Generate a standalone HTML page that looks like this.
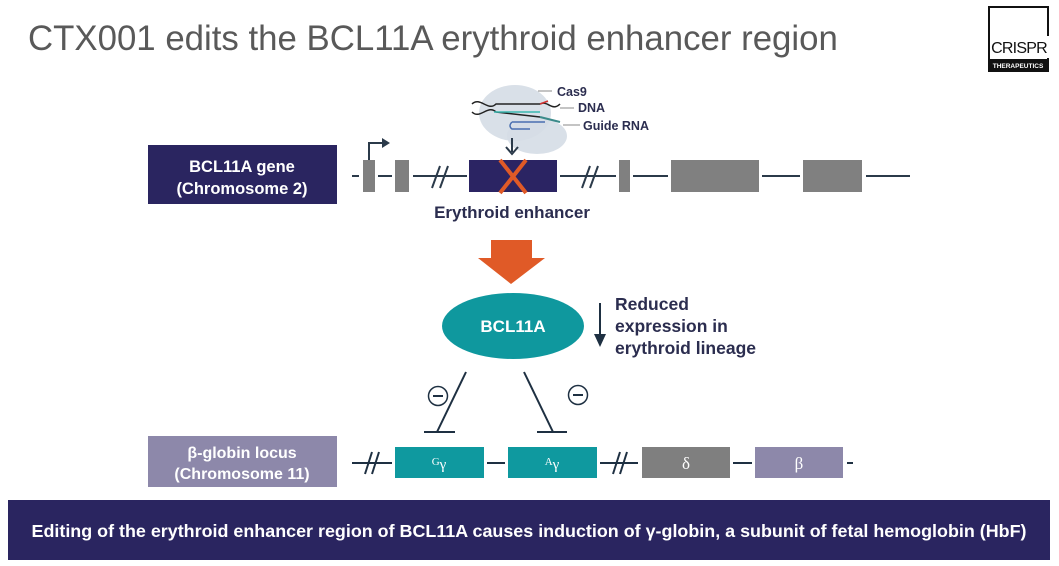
<!DOCTYPE html>
<html><head><meta charset="utf-8"><style>
html,body{margin:0;padding:0;background:#fff;}
svg{display:block;font-family:"Liberation Sans",sans-serif;}
</style></head><body>
<svg width="1059" height="566" viewBox="0 0 1059 566" xmlns="http://www.w3.org/2000/svg">
<text x="28" y="50" font-size="34.8" fill="#595959">CTX001 edits the BCL11A erythroid enhancer region</text>
<!-- logo -->
<rect x="989" y="7" width="59" height="64" fill="#fff" stroke="#111" stroke-width="2"/>
<rect x="994" y="36" width="56" height="22" fill="#fff"/>
<text x="1019" y="53" font-size="16" text-anchor="middle" fill="#111" letter-spacing="-0.8">CRISPR</text>
<rect x="989" y="59" width="59" height="12" fill="#111"/>
<text x="1018" y="68" font-size="6.5" text-anchor="middle" fill="#fff" font-weight="bold">THERAPEUTICS</text>

<!-- BCL11A gene box -->
<rect x="148" y="145" width="189" height="59" fill="#2a2560"/>
<text x="242" y="172" font-size="16.5" font-weight="bold" fill="#fff" text-anchor="middle">BCL11A gene</text>
<text x="242" y="194" font-size="16.5" font-weight="bold" fill="#fff" text-anchor="middle">(Chromosome 2)</text>

<g stroke="#2b3a4a" stroke-width="2" fill="none">
<line x1="352" y1="176" x2="359" y2="176"/>
<line x1="378" y1="176" x2="392" y2="176"/>
<line x1="413" y1="176" x2="467" y2="176"/>
<line x1="432" y1="188" x2="440" y2="166"/><line x1="440" y1="188" x2="448" y2="166"/>
<line x1="560" y1="176" x2="616" y2="176"/>
<line x1="582" y1="188" x2="590" y2="166"/><line x1="590" y1="188" x2="598" y2="166"/>
<line x1="633" y1="176" x2="668" y2="176"/>
<line x1="762" y1="176" x2="800" y2="176"/>
<line x1="866" y1="176" x2="910" y2="176"/>
<polyline points="369,160 369,143 384,143"/>
</g>
<polygon points="382,138 390,143 382,148" fill="#2b3a4a"/>
<g fill="#808080">
<rect x="363" y="160" width="12" height="32"/>
<rect x="395" y="160" width="14" height="32"/>
<rect x="619" y="160" width="11" height="32"/>
<rect x="671" y="160" width="88" height="32"/>
<rect x="803" y="160" width="59" height="32"/>
</g>
<rect x="469" y="160" width="88" height="32" fill="#2b2463"/>
<g stroke="#e05a27" stroke-width="4"><line x1="500" y1="160" x2="526" y2="193"/><line x1="526" y1="160" x2="500" y2="193"/></g>

<!-- Cas9 -->
<ellipse cx="515" cy="113" rx="36" ry="28" fill="#d5dde6" opacity="0.9"/>
<ellipse cx="537" cy="136" rx="30" ry="18" fill="#d5dde6" opacity="0.9"/>
<g stroke="#222" stroke-width="1.5" fill="none">
<path d="M472,104 C480,96 488,112 496,104 L540,104 C548,100 552,112 560,104"/>
<path d="M472,112 C480,120 488,104 496,112 L540,117"/>
</g>
<line x1="494" y1="112" x2="540" y2="112" stroke="#3bb8b0" stroke-width="1.5"/>
<line x1="540" y1="117" x2="560" y2="122" stroke="#3b8a8a" stroke-width="2"/>
<path d="M512,122 L545,122 M512,122 q-4,4 0,7 L530,129" stroke="#4a6fb0" stroke-width="1.5" fill="none"/>
<line x1="540" y1="104" x2="548" y2="101" stroke="#d03030" stroke-width="1.5"/>
<g stroke="#888" stroke-width="1"><line x1="538" y1="91" x2="552" y2="91"/><line x1="560" y1="108" x2="574" y2="108"/><line x1="563" y1="125" x2="580" y2="125"/></g>
<g font-size="12.5" font-weight="bold" fill="#2b2d4f">
<text x="557" y="96">Cas9</text><text x="578" y="112">DNA</text><text x="583" y="130">Guide RNA</text>
</g>
<line x1="512" y1="138" x2="512" y2="152" stroke="#2b3a4a" stroke-width="2"/>
<polyline points="506,147 512,154 518,147" stroke="#2b3a4a" stroke-width="2" fill="none"/>
<text x="512" y="218" font-size="17" font-weight="bold" fill="#2b2d4f" text-anchor="middle">Erythroid enhancer</text>

<!-- orange arrow -->
<polygon points="491,240 532,240 532,258 545,258 511,284 478,258 491,258" fill="#e05a27"/>

<ellipse cx="513" cy="326" rx="71" ry="33" fill="#0f989e"/>
<text x="513" y="332" font-size="17" font-weight="bold" fill="#fff" text-anchor="middle">BCL11A</text>
<line x1="600" y1="303" x2="600" y2="336" stroke="#1e3042" stroke-width="2"/>
<polygon points="594,334 606,334 600,347" fill="#1e3042"/>
<g font-size="17.5" font-weight="bold" fill="#2b2d4f">
<text x="615" y="310">Reduced</text><text x="615" y="332">expression in</text><text x="615" y="354">erythroid lineage</text>
</g>

<!-- inhibition -->
<g stroke="#1e3042" stroke-width="2" fill="none">
<line x1="466" y1="372" x2="437" y2="432"/><line x1="424" y1="432" x2="455" y2="432"/>
<line x1="524" y1="372" x2="553" y2="432"/><line x1="537" y1="432" x2="567" y2="432"/>
<circle cx="438" cy="396" r="9.5" stroke-width="1.5"/><line x1="433" y1="396" x2="443" y2="396"/>
<circle cx="578" cy="395" r="9.5" stroke-width="1.5"/><line x1="573" y1="395" x2="583" y2="395"/>
</g>

<!-- beta-globin box -->
<rect x="148" y="436" width="189" height="51" fill="#8d88aa"/>
<text x="242" y="458" font-size="16" font-weight="bold" fill="#fff" text-anchor="middle">β-globin locus</text>
<text x="242" y="479" font-size="16" font-weight="bold" fill="#fff" text-anchor="middle">(Chromosome 11)</text>

<g stroke="#1e3042" stroke-width="2">
<line x1="352" y1="463" x2="392" y2="463"/>
<line x1="365" y1="474" x2="372" y2="452"/><line x1="372" y1="474" x2="379" y2="452"/>
<line x1="487" y1="463" x2="505" y2="463"/>
<line x1="600" y1="463" x2="638" y2="463"/>
<line x1="613" y1="474" x2="620" y2="452"/><line x1="620" y1="474" x2="627" y2="452"/>
<line x1="733" y1="463" x2="752" y2="463"/>
<line x1="847" y1="463" x2="853" y2="463"/>
</g>
<rect x="395" y="447" width="89" height="31" fill="#0f999f"/>
<rect x="508" y="447" width="89" height="31" fill="#0f999f"/>
<rect x="642" y="447" width="88" height="31" fill="#7f7f7f"/>
<rect x="755" y="447" width="88" height="31" fill="#8d88aa"/>
<g fill="#fff" text-anchor="middle" font-family="Liberation Serif,serif">
<text x="439" y="469" font-size="15"><tspan font-size="11" dy="-4">G</tspan><tspan dy="4">γ</tspan></text>
<text x="552" y="469" font-size="15"><tspan font-size="11" dy="-4">A</tspan><tspan dy="4">γ</tspan></text>
<text x="686" y="469" font-size="17">δ</text>
<text x="799" y="469" font-size="17">β</text>
</g>

<!-- footer -->
<rect x="8" y="500" width="1042" height="60" fill="#2a2560"/>
<text x="529" y="537" font-size="17.5" font-weight="bold" fill="#fff" text-anchor="middle" textLength="995" lengthAdjust="spacingAndGlyphs">Editing of the erythroid enhancer region of BCL11A causes induction of γ-globin, a subunit of fetal hemoglobin (HbF)</text>
</svg>
</body></html>
